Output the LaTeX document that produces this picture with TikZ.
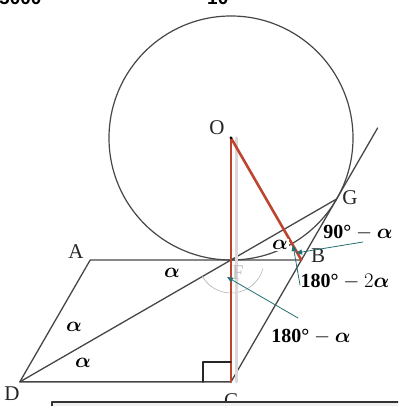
\documentclass[tikz,border=0pt]{standalone}
\usepackage{amsmath}
\usepackage{fontspec}
\setmainfont{Liberation Serif}
\newfontfamily\headfont{Liberation Sans}
\usetikzlibrary{arrows.meta}

\definecolor{segred}{RGB}{190,68,48}
\definecolor{hintteal}{RGB}{38,112,112}
\definecolor{edgegray}{RGB}{70,70,70}

\tikzset{
  edge/.style={draw=edgegray, line width=1.3pt},
  radline/.style={draw=segred, line width=2.6pt},
  shade/.style={draw=black!15, line width=3pt},
  ptlabel/.style={font=\fontsize{21}{22}\selectfont, text=black!85, inner sep=0pt},
  anglabel/.style={font=\fontsize{20}{22}\selectfont\bfseries, inner sep=0pt},
  hint/.style={draw=hintteal, line width=0.8pt, -{Triangle[length=6pt,width=5pt]}},
  topnum/.style={font=\headfont\bfseries\fontsize{19}{20}\selectfont, inner sep=0pt}
}

\begin{document}
\begin{tikzpicture}[
  x=1pt, y=1pt,
  line cap=round,
  line join=round
]
  \useasboundingbox (0,0) rectangle (398,406);
  \clip (0,0) rectangle (398,406);

  % Центр и точка касания
  \coordinate (O) at (231,268);
  \coordinate (F) at (231,146);

  % Параллелограмм
  \coordinate (A) at (90.2,146);
  \coordinate (B) at (301.4,146);
  \coordinate (C) at (231,24.1);
  \coordinate (D) at (19.8,24.1);

  % Касание с BC
  \coordinate (G) at (336.6,207);
  \coordinate (T) at (377.6,278);

  % Тень у радиуса
  \coordinate (Os) at (236,268);
  \coordinate (Cs) at (236,24.1);

  % Обрезанный текст сверху
  \node[topnum, anchor=base west] (num1) at (-1,401.5) {5000};
  \node[topnum, anchor=base west] (num2) at (207,401.5) {10};

  % Окружность
  \draw[edge, line width=1.2pt] (O) circle (122);

  % Стороны и прямые
  \draw[edge] (A)--(B)--(C)--(D)--cycle;
  \draw[edge] (B)--(T);
  \draw[edge] (D)--(G);

  % Дуга угла при F
  \draw[black!30, line width=0.6pt] (F) ++(210:33) arc (210:345:33);

  % Радиусы
  \draw[shade] (Os)--(Cs);
  \draw[radline] (O)--(C);
  \draw[radline] (O)--(B);
  \fill (O) circle (1.5pt);

  % Прямой угол
  \draw[black!85, line width=1.6pt] (203,24.1) -- (203,44) -- (231,44);

  % Буквы
  \node[ptlabel] (lO) at (217,278) {O};
  \node[ptlabel] (lA) at (76,154) {A};
  \node[ptlabel] (lB) at (318,150) {B};
  \node[ptlabel] (lG) at (350,208) {G};
  \node[ptlabel] (lD) at (12,12.5) {D};
  \node[ptlabel] (lC) at (231,5) {C};
  \node[ptlabel, text=black!25] (lF) at (238,133) {F};

  % Углы alpha
  \node[anglabel] (a1) at (172,133) {$\boldsymbol{\alpha}$};
  \node[anglabel] (a2) at (74,79) {$\boldsymbol{\alpha}$};
  \node[anglabel] (a3) at (83,43) {$\boldsymbol{\alpha}$};
  \node[anglabel, fill=white, inner sep=1pt] (a4) at (280,161) {$\boldsymbol{\alpha}$};

  % Подписи со стрелками
  \coordinate (h1s) at (363,164);
  \coordinate (h1e) at (296,153);
  \coordinate (h2s) at (300,121);
  \coordinate (h2e) at (293,161);
  \coordinate (h3s) at (298,88);
  \coordinate (h3e) at (227,129);
  \draw[hint] (h1s)--(h1e);
  \draw[hint] (h2s)--(h2e);
  \draw[hint] (h3s)--(h3e);

  \node[anglabel] (t1) at (358,173) {$\text{90°}-\boldsymbol{\alpha}$};
  \node[anglabel] (t2) at (345,124) {$\text{180°}-2\boldsymbol{\alpha}$};
  \node[anglabel] (t3) at (311,69) {$\text{180°}-\boldsymbol{\alpha}$};

  % Рамка снизу
  \fill[black!6] (52,0) rectangle (398,4);
  \draw[black!80, line width=1.2pt] (52,0) -- (52,4) -- (398,4);
\end{tikzpicture}
\end{document}
